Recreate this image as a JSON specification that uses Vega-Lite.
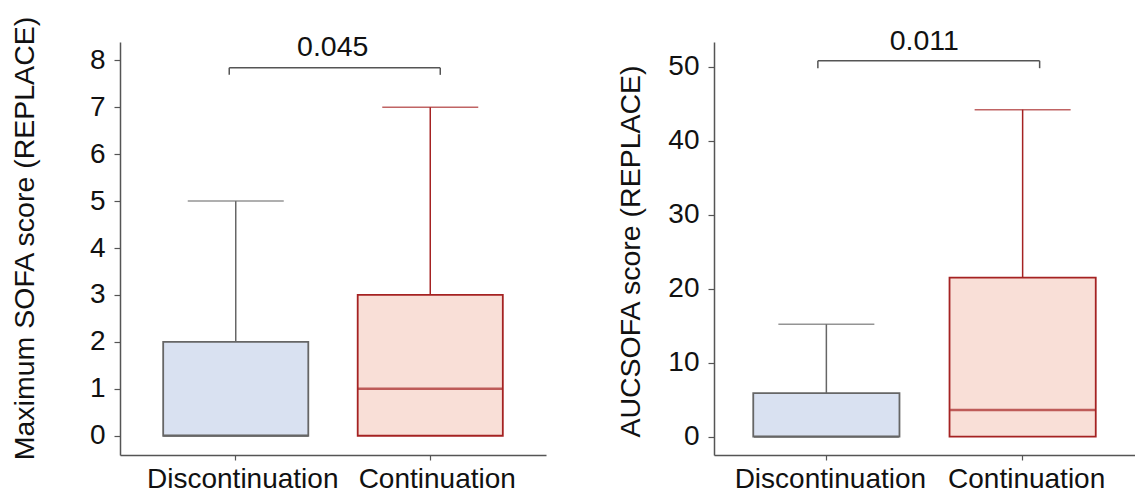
{
  "$schema": "https://vega.github.io/schema/vega-lite/v6.json",
  "padding": {"left": 10, "top": 15, "right": 0, "bottom": 0},
  "config": {
    "font": "Liberation Sans",
    "view": {"stroke": null},
    "concat": {"spacing": 70},
    "axis": {
      "domainColor": "#555555",
      "domainWidth": 1.5,
      "tickColor": "#555555",
      "tickWidth": 1.2,
      "tickSize": 6,
      "grid": false,
      "labelFontSize": 28,
      "labelColor": "#111111",
      "labelLimit": 400,
      "titleFontSize": 28.5,
      "titleFontWeight": "normal",
      "titleColor": "#111111"
    }
  },
  "datasets": {
    "sofa": [
      {"group": "Discontinuation", "min": 0, "q1": 0, "median": 0, "q3": 2, "max": 5},
      {"group": "Continuation", "min": 0, "q1": 0, "median": 1, "q3": 3, "max": 7}
    ],
    "auc": [
      {"group": "Discontinuation", "min": 0, "q1": 0, "median": 0, "q3": 5.9, "max": 15.2},
      {"group": "Continuation", "min": 0, "q1": 0, "median": 3.6, "q3": 21.5, "max": 44.2}
    ],
    "p_sofa": [{"from": "Discontinuation", "to": "Continuation", "p": "0.045"}],
    "p_auc": [{"from": "Discontinuation", "to": "Continuation", "p": "0.011"}]
  },
  "hconcat": [
    {
      "width": 426,
      "height": 413,
      "layer": [
        {
          "data": {"name": "sofa"},
          "mark": {"type": "rule", "strokeWidth": 1.5},
          "encoding": {
            "x": {"field": "group", "type": "nominal", "sort": ["Discontinuation", "Continuation"],
              "scale": {"type": "band", "domain": ["Discontinuation", "Continuation"], "paddingInner": 0.254, "paddingOuter": 0.222},
              "axis": {"title": null, "labelAngle": 0, "labelFontSize": 28, "labelPadding": 5, "labelOffset": 7, "tickSize": 5}},
            "y": {"field": "q3", "type": "quantitative",
              "scale": {"domain": [-0.41, 8.39], "nice": false, "zero": false},
              "axis": {"title": "Maximum SOFA score (REPLACE)", "values": [0, 1, 2, 3, 4, 5, 6, 7, 8], "labelPadding": 9, "titlePadding": 50, "titleY": 196}},
            "y2": {"field": "max"},
            "stroke": {"field": "group", "type": "nominal", "scale": {"domain": ["Discontinuation", "Continuation"], "range": ["#666666", "#A52222"]}, "legend": null}
          }
        },
        {
          "data": {"name": "sofa"},
          "mark": {"type": "tick", "orient": "horizontal", "size": 96, "thickness": 1.5},
          "encoding": {
            "x": {"field": "group", "type": "nominal"},
            "y": {"field": "max", "type": "quantitative"},
            "color": {"field": "group", "type": "nominal", "scale": {"domain": ["Discontinuation", "Continuation"], "range": ["#666666", "#A52222"]}, "legend": null}
          }
        },
        {
          "data": {"name": "sofa"},
          "mark": {"type": "bar", "strokeWidth": 1.8},
          "encoding": {
            "x": {"field": "group", "type": "nominal"},
            "y": {"field": "q1", "type": "quantitative"},
            "y2": {"field": "q3"},
            "fill": {"field": "group", "type": "nominal", "scale": {"domain": ["Discontinuation", "Continuation"], "range": ["#D9E1F1", "#F9DFD7"]}, "legend": null},
            "stroke": {"field": "group", "type": "nominal", "legend": null}
          }
        },
        {
          "data": {"name": "sofa"},
          "mark": {"type": "tick", "orient": "horizontal", "size": 145, "thickness": 2.5},
          "encoding": {
            "x": {"field": "group", "type": "nominal"},
            "y": {"field": "median", "type": "quantitative"},
            "color": {"field": "group", "type": "nominal", "scale": {"domain": ["Discontinuation", "Continuation"], "range": ["#444444", "#8B1A1A"]}, "legend": null}
          }
        },
        {
          "data": {"name": "p_sofa"},
          "mark": {"type": "rule", "color": "#555555", "strokeWidth": 1.5, "xOffset": -6.5, "x2Offset": 10},
          "encoding": {
            "x": {"field": "from", "type": "nominal"},
            "x2": {"field": "to"},
            "y": {"datum": 7.84}
          }
        },
        {
          "data": {"name": "p_sofa"},
          "mark": {"type": "rule", "color": "#555555", "strokeWidth": 1.5, "xOffset": -6.5},
          "encoding": {
            "x": {"field": "from", "type": "nominal"},
            "y": {"datum": 7.84},
            "y2": {"datum": 7.69}
          }
        },
        {
          "data": {"name": "p_sofa"},
          "mark": {"type": "rule", "color": "#555555", "strokeWidth": 1.5, "xOffset": 10},
          "encoding": {
            "x": {"field": "to", "type": "nominal"},
            "y": {"datum": 7.84},
            "y2": {"datum": 7.69}
          }
        },
        {
          "data": {"name": "p_sofa"},
          "mark": {"type": "text", "fontSize": 28.5, "color": "#111111", "baseline": "middle", "xOffset": 97},
          "encoding": {
            "x": {"field": "from", "type": "nominal"},
            "y": {"datum": 8.29},
            "text": {"field": "p"}
          }
        }
      ]
    },
    {
      "width": 421,
      "height": 413,
      "layer": [
        {
          "data": {"name": "auc"},
          "mark": {"type": "rule", "strokeWidth": 1.5},
          "encoding": {
            "x": {"field": "group", "type": "nominal", "sort": ["Discontinuation", "Continuation"],
              "scale": {"type": "band", "domain": ["Discontinuation", "Continuation"], "paddingInner": 0.255, "paddingOuter": 0.2},
              "axis": {"title": null, "labelAngle": 0, "labelFontSize": 28, "labelPadding": 5, "labelOffset": 4, "tickSize": 5}},
            "y": {"field": "q3", "type": "quantitative",
              "scale": {"domain": [-2.47, 53.34], "nice": false, "zero": false},
              "axis": {"title": "AUCSOFA score (REPLACE)", "values": [0, 10, 20, 30, 40, 50], "labelPadding": 9, "titlePadding": 22, "titleY": 209}},
            "y2": {"field": "max"},
            "stroke": {"field": "group", "type": "nominal", "scale": {"domain": ["Discontinuation", "Continuation"], "range": ["#222222", "#B85858"]}, "legend": null}
          }
        },
        {
          "data": {"name": "auc"},
          "mark": {"type": "tick", "orient": "horizontal", "size": 96, "thickness": 1.5},
          "encoding": {
            "x": {"field": "group", "type": "nominal"},
            "y": {"field": "max", "type": "quantitative"},
            "color": {"field": "group", "type": "nominal", "scale": {"domain": ["Discontinuation", "Continuation"], "range": ["#222222", "#B85858"]}, "legend": null}
          }
        },
        {
          "data": {"name": "auc"},
          "mark": {"type": "bar", "strokeWidth": 1.8},
          "encoding": {
            "x": {"field": "group", "type": "nominal"},
            "y": {"field": "q1", "type": "quantitative"},
            "y2": {"field": "q3"},
            "fill": {"field": "group", "type": "nominal", "scale": {"domain": ["Discontinuation", "Continuation"], "range": ["#D9E1F1", "#F9DFD7"]}, "legend": null},
            "stroke": {"field": "group", "type": "nominal", "legend": null}
          }
        },
        {
          "data": {"name": "auc"},
          "mark": {"type": "tick", "orient": "horizontal", "size": 145, "thickness": 2.5},
          "encoding": {
            "x": {"field": "group", "type": "nominal"},
            "y": {"field": "median", "type": "quantitative"},
            "color": {"field": "group", "type": "nominal", "scale": {"domain": ["Discontinuation", "Continuation"], "range": ["#444444", "#8B1A1A"]}, "legend": null}
          }
        },
        {
          "data": {"name": "p_auc"},
          "mark": {"type": "rule", "color": "#555555", "strokeWidth": 1.5, "xOffset": -8.5, "x2Offset": 17},
          "encoding": {
            "x": {"field": "from", "type": "nominal"},
            "x2": {"field": "to"},
            "y": {"datum": 50.8}
          }
        },
        {
          "data": {"name": "p_auc"},
          "mark": {"type": "rule", "color": "#555555", "strokeWidth": 1.5, "xOffset": -8.5},
          "encoding": {
            "x": {"field": "from", "type": "nominal"},
            "y": {"datum": 50.8},
            "y2": {"datum": 49.8}
          }
        },
        {
          "data": {"name": "p_auc"},
          "mark": {"type": "rule", "color": "#555555", "strokeWidth": 1.5, "xOffset": 17},
          "encoding": {
            "x": {"field": "to", "type": "nominal"},
            "y": {"datum": 50.8},
            "y2": {"datum": 49.8}
          }
        },
        {
          "data": {"name": "p_auc"},
          "mark": {"type": "text", "fontSize": 28.5, "color": "#111111", "baseline": "middle", "xOffset": 98},
          "encoding": {
            "x": {"field": "from", "type": "nominal"},
            "y": {"datum": 53.5},
            "text": {"field": "p"}
          }
        }
      ]
    }
  ]
}
